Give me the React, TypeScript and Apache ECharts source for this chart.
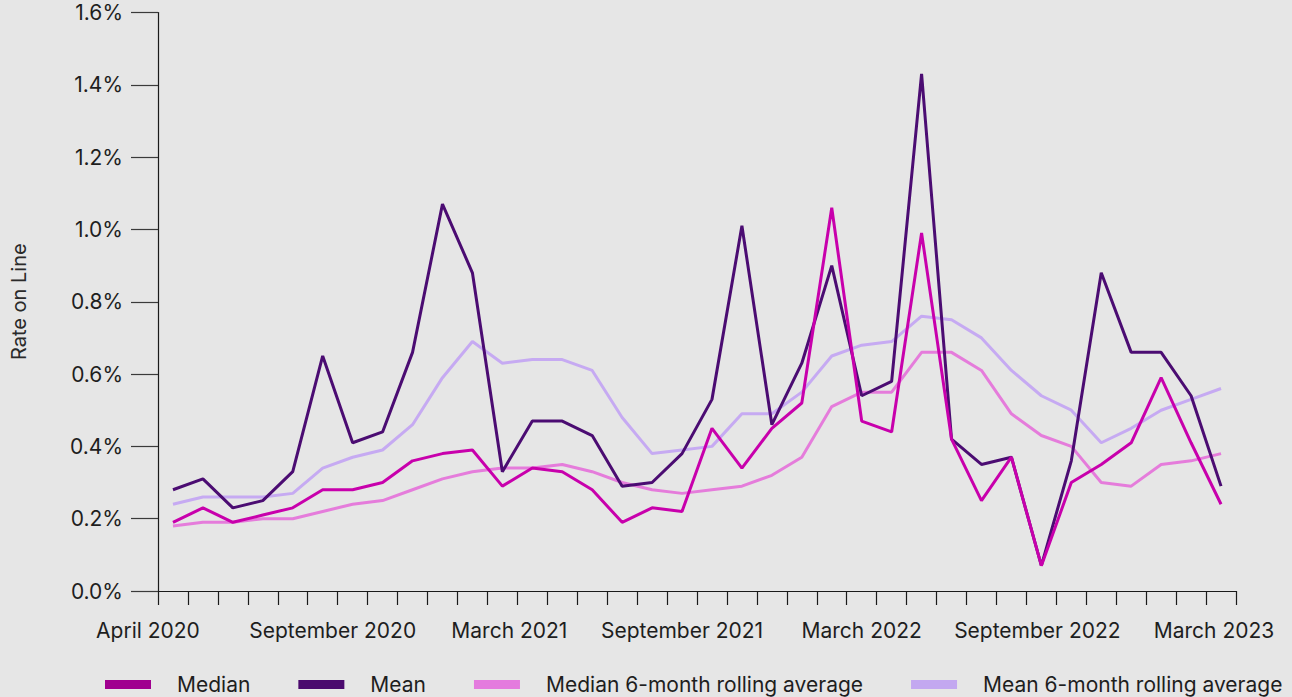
import React, { useEffect, useRef } from "react";
import * as echarts from "echarts";

const months = [
  "April 2020", "May 2020", "June 2020", "July 2020", "August 2020", "September 2020",
  "October 2020", "November 2020", "December 2020", "January 2021", "February 2021", "March 2021",
  "April 2021", "May 2021", "June 2021", "July 2021", "August 2021", "September 2021",
  "October 2021", "November 2021", "December 2021", "January 2022", "February 2022", "March 2022",
  "April 2022", "May 2022", "June 2022", "July 2022", "August 2022", "September 2022",
  "October 2022", "November 2022", "December 2022", "January 2023", "February 2023", "March 2023",
];

const median = [
  0.19, 0.23, 0.19, 0.21, 0.23, 0.28, 0.28, 0.30, 0.36, 0.38, 0.39, 0.29,
  0.34, 0.33, 0.28, 0.19, 0.23, 0.22, 0.45, 0.34, 0.45, 0.52, 1.06, 0.47,
  0.44, 0.99, 0.42, 0.25, 0.37, 0.07, 0.30, 0.35, 0.41, 0.59, 0.41, 0.24,
];

const mean = [
  0.28, 0.31, 0.23, 0.25, 0.33, 0.65, 0.41, 0.44, 0.66, 1.07, 0.88, 0.33,
  0.47, 0.47, 0.43, 0.29, 0.30, 0.38, 0.53, 1.01, 0.46, 0.63, 0.90, 0.54,
  0.58, 1.43, 0.42, 0.35, 0.37, 0.07, 0.36, 0.88, 0.66, 0.66, 0.54, 0.29,
];

const medianRolling = [
  0.18, 0.19, 0.19, 0.20, 0.20, 0.22, 0.24, 0.25, 0.28, 0.31, 0.33, 0.34,
  0.34, 0.35, 0.33, 0.30, 0.28, 0.27, 0.28, 0.29, 0.32, 0.37, 0.51, 0.55,
  0.55, 0.66, 0.66, 0.61, 0.49, 0.43, 0.40, 0.30, 0.29, 0.35, 0.36, 0.38,
];

const meanRolling = [
  0.24, 0.26, 0.26, 0.26, 0.27, 0.34, 0.37, 0.39, 0.46, 0.59, 0.69, 0.63,
  0.64, 0.64, 0.61, 0.48, 0.38, 0.39, 0.40, 0.49, 0.49, 0.55, 0.65, 0.68,
  0.69, 0.76, 0.75, 0.70, 0.61, 0.54, 0.50, 0.41, 0.45, 0.50, 0.53, 0.56,
];

const shownLabels = [0, 5, 11, 17, 23, 29, 35];
const labelStyleKey: Record<number, string> = { 0: "s0", 5: "s5", 11: "s11", 17: "c", 23: "c", 29: "s29", 35: "s35" };

const FONT = "Inter, 'Noto Sans', sans-serif";
const TXT = "#1e1e1e";

export default function App() {
  const ref = useRef<HTMLDivElement>(null);
  useEffect(() => {
    if (!ref.current) return;
    const chart = echarts.init(ref.current, null, { renderer: "svg" });
    const mk = (name: string, data: number[], lineColor: string, iconColor: string, z: number) => ({
      name,
      type: "line",
      data,
      symbol: "none",
      z,
      itemStyle: { color: iconColor },
      lineStyle: { color: lineColor, width: 3 },
    });
    chart.setOption({
      animation: false,
      backgroundColor: "#e6e6e6",
      textStyle: { fontFamily: FONT },
      grid: { left: 158, right: 56, top: 12.5, bottom: 106, containLabel: false, outerBoundsMode: "none" },
      legend: {
        left: 105,
        top: 674,
        width: 1187,
        padding: 0,
        itemWidth: 46,
        itemHeight: 9,
        itemGap: 48,
        icon: "rect",
        data: ["Median", "Mean", "Median 6-month rolling average", "Mean 6-month rolling average"],
        textStyle: { fontSize: 21, color: TXT, fontFamily: FONT, padding: [0, 0, 0, 21] },
      },
      xAxis: {
        type: "category",
        data: months,
        boundaryGap: true,
        axisLine: { lineStyle: { color: "#1a1a1a", width: 1.2 } },
        axisTick: { show: true, length: 14, interval: 0, lineStyle: { color: "#1a1a1a", width: 1.2 } },
        axisLabel: {
          interval: (i: number) => shownLabels.includes(i),
          margin: 29,
          fontSize: 21,
          color: TXT,
          fontFamily: FONT,
          hideOverlap: false,
          formatter: (v: string, i: number) => `{${labelStyleKey[i] || "c"}|${v}}`,
          rich: {
            c: { fontSize: 21, color: TXT, fontFamily: FONT },
            s0: { fontSize: 21, color: TXT, fontFamily: FONT, padding: [0, 50, 0, 0] },
            s5: { fontSize: 21, color: TXT, fontFamily: FONT, padding: [0, 0, 0, 20] },
            s11: { fontSize: 21, color: TXT, fontFamily: FONT, padding: [0, 0, 0, 14] },
            s29: { fontSize: 21, color: TXT, fontFamily: FONT, padding: [0, 8, 0, 0] },
            s35: { fontSize: 21, color: TXT, fontFamily: FONT, padding: [0, 14, 0, 0] },
          },
        },
        splitLine: { show: false },
      },
      yAxis: {
        type: "value",
        min: 0,
        max: 1.6,
        interval: 0.2,
        name: "Rate on Line",
        nameLocation: "middle",
        nameRotate: 90,
        nameGap: 129,
        nameTextStyle: { fontSize: 20, color: "#2a2a2a", fontFamily: FONT },
        axisLine: { show: true, lineStyle: { color: "#1a1a1a", width: 1.2 } },
        axisTick: { show: true, length: 27, lineStyle: { color: "#3a3a3a", width: 1.2 } },
        axisLabel: {
          margin: 35,
          fontSize: 21,
          color: TXT,
          fontFamily: FONT,
          formatter: (v: number) => v.toFixed(1) + "%",
        },
        splitLine: { show: false },
      },
      series: [
        mk("Median", median, "#c800ac", "#a0008f", 5),
        mk("Mean", mean, "#4b0c72", "#4b0a6e", 4),
        mk("Median 6-month rolling average", medianRolling, "#e57cdb", "#e47bde", 3),
        mk("Mean 6-month rolling average", meanRolling, "#c6aaf2", "#c3a8f0", 2),
      ],
    });
    return () => chart.dispose();
  }, []);
  return <div ref={ref} style={{ position: "absolute", left: 0, top: 0, width: 1292, height: 697 }} />;
}
